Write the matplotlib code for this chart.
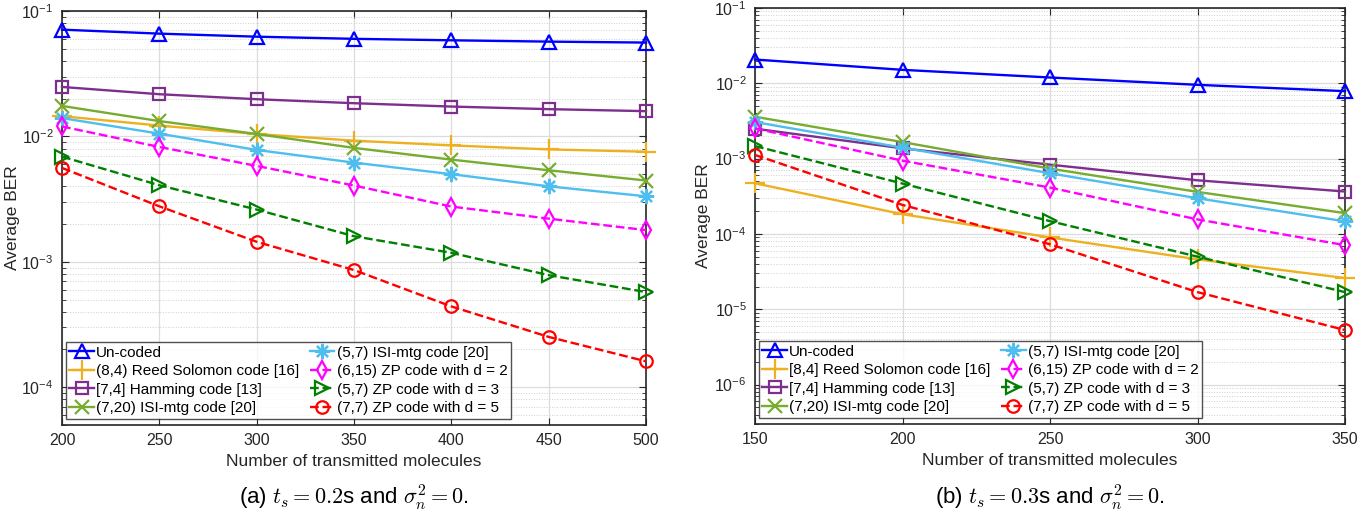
import matplotlib
matplotlib.use("Agg")
import matplotlib.pyplot as plt
from matplotlib.ticker import LogLocator, NullFormatter, MultipleLocator

plt.rcParams['font.family'] = ['Liberation Sans', 'DejaVu Sans']
plt.rcParams['mathtext.fontset'] = 'cm'

# ---------------- data ----------------
labels_a = ["Un-coded", "(8,4) Reed Solomon code [16]", "[7,4] Hamming code [13]",
            "(7,20) ISI-mtg code [20]", "(5,7) ISI-mtg code [20]",
            "(6,15) ZP code with d = 2", "(5,7) ZP code with d = 3",
            "(7,7) ZP code with d = 5"]
labels_b = ["Un-coded", "[8,4] Reed Solomon code [16]", "[7,4] Hamming code [13]",
            "(7,20) ISI-mtg code [20]", "(5,7) ISI-mtg code [20]",
            "(6,15) ZP code with d = 2", "(5,7) ZP code with d = 3",
            "(7,7) ZP code with d = 5"]

x_a = [200, 250, 300, 350, 400, 450, 500]
uncoded_a = [0.071, 0.066, 0.0624, 0.060, 0.0584, 0.057, 0.056]
rs_a      = [0.0145, 0.0122, 0.01045, 0.00925, 0.00848, 0.00788, 0.00755]
hamming_a = [0.0248, 0.0217, 0.0198, 0.0184, 0.0173, 0.0165, 0.0159]
isi720_a  = [0.0175, 0.01325, 0.01045, 0.0081, 0.00653, 0.00537, 0.00445]
isi57_a   = [0.0140, 0.01052, 0.0078, 0.00618, 0.0050, 0.0040, 0.00333]
zp2_a     = [0.0120, 0.00824, 0.00582, 0.00406, 0.00276, 0.00221, 0.00179]
zp3_a     = [0.0069, 0.00408, 0.00261, 0.0016, 0.00118, 0.000783, 0.000574]
zp5_a     = [0.00561, 0.00277, 0.001445, 0.00086, 0.000441, 0.000252, 0.000161]

x_b = [150, 200, 250, 300, 350]
uncoded_b = [0.0207, 0.0151, 0.01195, 0.00955, 0.00787]
rs_b      = [0.000471, 0.000183, 0.000090, 0.000046, 0.000026]
hamming_b = [0.0025, 0.00137, 0.000832, 0.000516, 0.000366]
isi720_b  = [0.0036, 0.00166, 0.000738, 0.000362, 0.000189]
isi57_b   = [0.00306, 0.0014, 0.00064, 0.000298, 0.000147]
zp2_b     = [0.00252, 0.00094, 0.000413, 0.000156, 0.000071]
zp3_b     = [0.00147, 0.000467, 0.000148, 0.000050, 0.0000169]
zp5_b     = [0.00112, 0.000243, 0.000073, 0.0000169, 0.0000053]

series_a = [uncoded_a, rs_a, hamming_a, isi720_a, isi57_a, zp2_a, zp3_a, zp5_a]
series_b = [uncoded_b, rs_b, hamming_b, isi720_b, isi57_b, zp2_b, zp3_b, zp5_b]

# ---------------- styles ----------------
colors = ['#0000FF', '#EDB120', '#7E2F8E', '#77AC30', '#4DBEEE', '#FF00FF', '#008000', '#FF0000']
markers = ['^', '+', 's', 'x', (8, 2, 0), 'd', '>', 'o']
msizes = [10, 14, 8, 10, 11, 9, 10, 9]
styles = ['-', '-', '-', '-', '-', '--', '--', '--']

fig = plt.figure(figsize=(13.69, 5.18), dpi=100)
W, H = 1369.0, 518.0
ax_a = fig.add_axes([62 / W, 1 - 425 / H, (646 - 62) / W, (425 - 11) / H])
ax_b = fig.add_axes([755 / W, 1 - 424 / H, (1345 - 755) / W, (424 - 8) / H])


def draw(ax, x, series, labels, xlim, ylim, xstep, ylab_x):
    for y, lab, c, m, ms, ls in zip(series, labels, colors, markers, msizes, styles):
        ax.plot(x, y, color=c, linestyle=ls, linewidth=1.7, marker=m, markersize=ms,
                markerfacecolor='none', markeredgecolor=c, markeredgewidth=1.6,
                label=lab, clip_on=False, zorder=3)
    ax.set_yscale('log')
    ax.set_xlim(*xlim)
    ax.set_ylim(*ylim)
    ax.xaxis.set_major_locator(MultipleLocator(xstep))
    ax.yaxis.set_major_locator(LogLocator(base=10, numticks=20))
    ax.yaxis.set_minor_locator(LogLocator(base=10, subs=range(2, 10), numticks=50))
    ax.yaxis.set_minor_formatter(NullFormatter())
    ax.grid(True, which='major', color='#DCDCDC', linewidth=0.9, linestyle='-')
    ax.grid(True, which='minor', axis='y', color='#D0D0D0', linewidth=0.7, linestyle=':')
    ax.set_axisbelow(True)
    ax.tick_params(which='both', direction='in', top=True, right=True,
                   colors='#262626', labelsize=11.5)
    ax.tick_params(which='major', length=5, pad=6)
    ax.tick_params(which='minor', length=3)
    for s in ax.spines.values():
        s.set_color('#262626')
        s.set_linewidth(1.2)
    ax.set_xlabel('Number of transmitted molecules', fontsize=12.5, color='#262626', labelpad=4)
    ax.set_ylabel('Average BER', fontsize=12.5, color='#262626')
    ax.yaxis.set_label_coords(ylab_x, 0.5)
    leg = ax.legend(ncol=2, loc='lower left', bbox_to_anchor=(0.006, 0.014),
                    fontsize=11, handlelength=1.6, handletextpad=0.15,
                    columnspacing=0.7, labelspacing=0.3, borderpad=0.25,
                    borderaxespad=0.0, frameon=True, fancybox=False)
    leg.get_frame().set_edgecolor('#262626')
    leg.get_frame().set_linewidth(1.0)
    leg.set_zorder(5)


draw(ax_a, x_a, series_a, labels_a, (200, 500), (5e-5, 1e-1), 50, -0.072)
draw(ax_b, x_b, series_b, labels_b, (150, 350), (3e-7, 1e-1), 50, -0.075)

fig.text(354 / W, 1 - 497 / H, r'(a) $t_s = 0.2$s and $\sigma_n^2 = 0$.', ha='center', va='center', fontsize=16)
fig.text(1050 / W, 1 - 497 / H, r'(b) $t_s = 0.3$s and $\sigma_n^2 = 0$.', ha='center', va='center', fontsize=16)

fig.savefig('out.png', dpi=100)
